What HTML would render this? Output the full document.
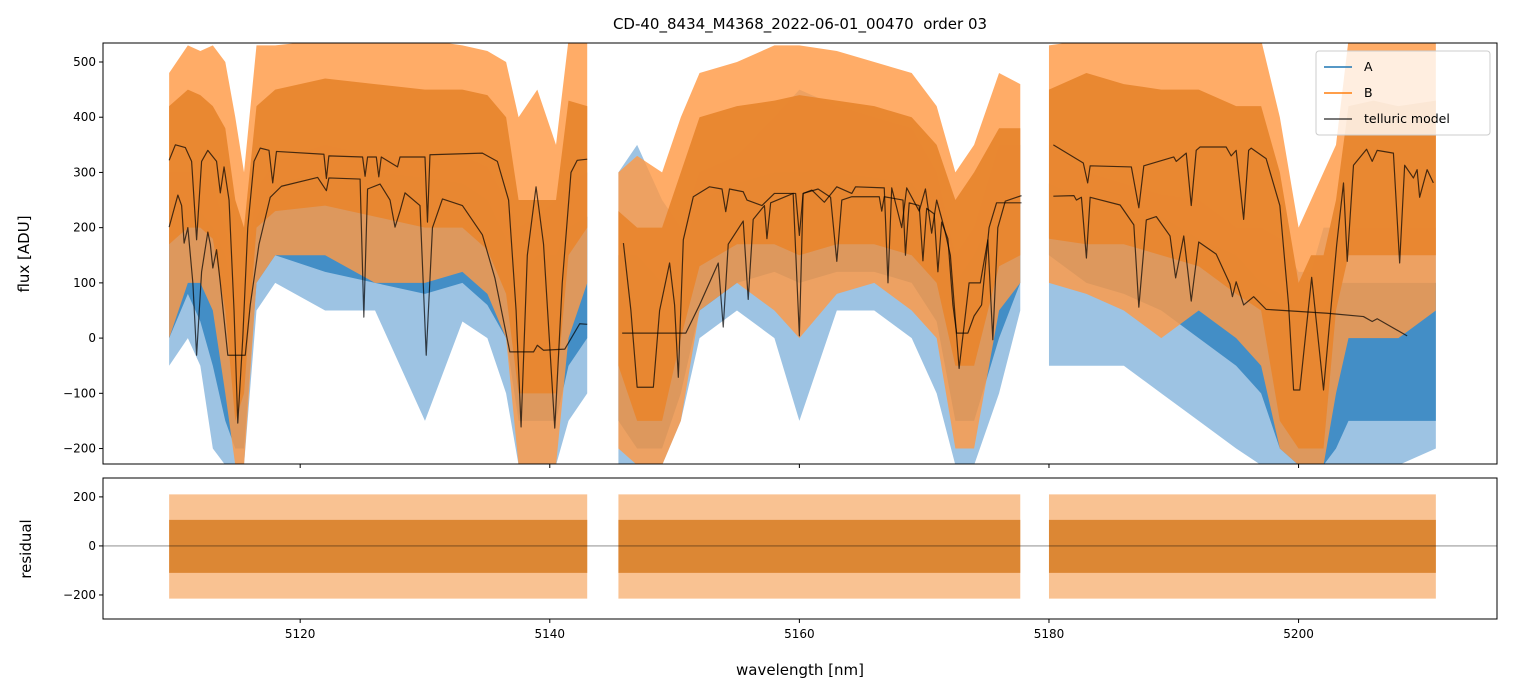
<!DOCTYPE html>
<html><head><meta charset="utf-8"><style>
body{margin:0;background:#fff;font-family:"DejaVu Sans","Liberation Sans",sans-serif}
svg text{font-family:"DejaVu Sans","Liberation Sans",sans-serif;fill:#000}
</style></head><body>
<svg id="c" width="1513" height="696" xmlns="http://www.w3.org/2000/svg"></svg>
<script>
// ---- data (wavelength nm; envelopes) ----
const segWl = [
 [5109.5,5111,5112,5113,5114,5114.8,5115.5,5116.5,5118,5122,5126,5130,5133,5135,5136.5,5137.5,5139,5140.5,5141.5,5143],
 [5145.5,5147,5149,5150.5,5152,5155,5158,5160,5163,5166,5169,5171,5172.5,5174,5176,5177.7],
 [5180,5183,5186,5189,5192,5195,5197,5198.5,5200,5201,5202,5203,5204,5206,5208,5211]];
const bOutHi = [[480,530,520,530,500,400,300,530,530,540,540,540,530,520,500,400,450,350,540,540],
 [300,330,300,400,480,500,530,530,520,500,480,420,300,350,480,460],
 [530,540,540,540,540,540,540,400,200,250,300,350,540,540,540,540]];
const bOutLo = [[0,100,100,50,-100,-230,-230,100,150,150,100,100,120,80,0,-230,-230,-230,0,100],
 [-200,-230,-230,-150,50,100,50,0,80,100,50,0,-200,-200,50,100],
 [100,80,50,0,50,0,-50,-200,-230,-230,-230,-100,0,0,0,50]];
const bCoreHi = [[420,450,440,420,380,250,200,420,450,470,460,450,450,440,400,250,250,250,430,420],
 [230,200,200,300,400,420,430,440,430,420,400,350,250,300,380,380],
 [450,480,460,450,450,420,420,300,100,150,150,250,420,430,420,430]];
const bCoreLo = [[170,200,200,180,50,-150,-100,200,230,240,220,200,200,160,80,-100,-100,-100,150,200],
 [-50,-150,-150,0,130,170,170,150,170,170,150,100,-50,-50,130,150],
 [180,170,170,150,130,80,50,-150,-200,-200,-200,50,150,150,150,150]];
const aOutHi = [[300,300,300,280,200,100,100,270,320,350,330,320,330,310,250,200,220,250,280,300],
 [300,350,250,200,300,330,400,450,420,400,380,300,150,200,350,350],
 [350,300,280,260,250,200,200,180,120,120,200,200,200,200,200,200]];
const aOutLo = [[-50,0,-50,-200,-230,-230,-230,50,100,50,50,-150,30,0,-100,-230,-230,-230,-150,-100],
 [-230,-230,-230,-150,0,50,0,-150,50,50,0,-100,-230,-230,-100,50],
 [-50,-50,-50,-100,-150,-200,-230,-230,-230,-230,-230,-230,-230,-230,-230,-200]];
const aCoreHi = [[250,230,230,200,150,50,50,220,280,300,300,290,280,250,180,120,150,150,200,220],
 [150,150,100,150,250,280,300,300,300,290,280,230,100,150,250,250],
 [280,250,230,220,180,150,100,80,50,30,50,100,100,100,100,100]];
const aCoreLo = [[0,80,30,-50,-150,-200,-200,100,150,120,100,80,100,60,0,-150,-150,-150,-50,0],
 [-150,-200,-200,-100,50,100,120,100,120,120,100,30,-150,-150,0,100],
 [150,100,80,50,0,-50,-100,-200,-230,-230,-230,-200,-150,-150,-150,-150]];
const resOuter=[-215,210], resCore=[-110,106];
const tellB = [
 [[5109.5,322],[5110,350],[5110.8,345],[5111.3,320],[5111.7,178],[5112.1,320],[5112.6,340],[5113.3,320],[5113.6,263],[5113.9,310],[5114.3,250],[5114.7,50],[5115.0,-154],[5115.4,0],[5115.8,200],[5116.3,320],[5116.8,344],[5117.5,340],[5117.8,281],[5118.1,338],[5121.9,333],[5122.1,289],[5122.3,330],[5125,328],[5125.2,293],[5125.4,328],[5126.1,328],[5126.3,292],[5126.5,328],[5127.8,310],[5128,328],[5130,328],[5130.2,210],[5130.4,332],[5134.6,335],[5135.8,320],[5136.7,250],[5137.3,50],[5137.7,-161],[5138.2,150],[5138.9,274],[5139.5,170],[5140.4,-163],[5141,100],[5141.7,300],[5142.2,322],[5143,324]],
 [[5145.9,172],[5146.5,50],[5147,-89],[5148.3,-89],[5148.8,50],[5149.6,136],[5150,60],[5150.3,-71],[5150.7,178],[5151.5,256],[5152.8,274],[5153.8,270],[5154.1,229],[5154.4,270],[5155.5,265],[5155.8,250],[5157,240],[5158,262],[5159.7,262],[5160,186],[5160.3,262],[5161,268],[5162,246],[5163,274],[5164.2,262],[5164.5,274],[5166.8,272],[5167.1,100],[5167.4,272],[5168.2,200],[5168.6,272],[5169.6,230],[5170.1,270],[5170.6,190],[5171,250],[5171.6,200],[5172.1,150],[5172.8,-55],[5173.6,100],[5174.5,100],[5175.1,178],[5175.5,-3],[5175.9,200],[5176.5,248],[5177.8,258]],
 [[5180.35,350],[5182.75,317],[5183.1,281],[5183.3,312],[5186.6,310],[5187.2,236],[5187.6,312],[5190,328],[5190.2,320],[5191,335],[5191.4,240],[5191.8,340],[5192.1,346],[5194.2,346],[5194.6,330],[5195,340],[5195.6,215],[5196,340],[5196.2,344],[5197.4,325],[5198.5,240],[5199.2,60],[5199.6,-94],[5200.1,-94],[5201.05,110],[5202,-94],[5203.05,168],[5203.6,281],[5203.9,139],[5204.4,313],[5205.45,342],[5205.9,320],[5206.3,340],[5207.6,335],[5208.1,136],[5208.5,313],[5209.2,290],[5209.5,305],[5209.7,255],[5210.3,305],[5210.8,281]]];
const tellA = [
 [[5109.5,201],[5110.2,259],[5110.5,240],[5110.7,172],[5111.0,200],[5111.4,100],[5111.7,-31],[5112.1,120],[5112.6,192],[5112.8,170],[5113.0,127],[5113.3,160],[5113.6,100],[5114.2,-31],[5115.6,-31],[5116,60],[5116.7,170],[5117.6,255],[5118.5,275],[5121.4,291],[5122.1,267],[5122.3,290],[5124.8,288],[5125.1,38],[5125.4,270],[5126.4,279],[5127.2,250],[5127.6,201],[5128,230],[5128.4,263],[5129.6,240],[5130.1,-31],[5130.6,200],[5131.4,252],[5133,240],[5134.6,187],[5135.6,109],[5136.8,-25],[5138.7,-25],[5139,-13],[5139.5,-22],[5141.2,-20],[5142.4,26],[5143,25]],
 [[5145.8,9],[5150.9,9],[5152,60],[5153.5,136],[5153.9,20],[5154.3,170],[5155.5,212],[5155.9,70],[5156.3,215],[5157.2,240],[5157.4,180],[5157.7,245],[5159.5,262],[5160,4],[5160.3,262],[5161.5,270],[5162.5,255],[5163,139],[5163.4,250],[5164.2,256],[5166.4,256],[5166.6,230],[5166.8,256],[5168.3,250],[5168.5,150],[5168.8,245],[5169.6,240],[5169.9,140],[5170.2,235],[5170.8,225],[5171.1,120],[5171.4,210],[5171.9,180],[5172.3,60],[5172.6,9],[5173.5,9],[5174,40],[5174.6,60],[5175.2,200],[5175.8,245],[5177.8,245]],
 [[5180.35,257],[5182,258],[5182.2,250],[5182.6,255],[5183.0,145],[5183.3,255],[5185.7,241],[5186.8,205],[5187.2,56],[5187.8,214],[5188.6,220],[5189.7,185],[5190.15,109],[5190.8,185],[5191.4,67],[5192,174],[5193.4,152],[5194.5,98],[5194.7,75],[5195,102],[5195.6,60],[5196.4,75],[5197.4,52],[5202.3,45],[5205.2,39],[5205.9,30],[5206.3,35],[5208.7,4]]];
const xTicks=[5120,5140,5160,5180,5200];
const yTicks=[500,400,300,200,100,0,-100,-200];
const rTicks=[200,0,-200];

// ---- layout ----
const L=103,R=1497,T1=43,B1=464,T2=478,B2=619;
const x=w=>L+(w-5104.2)/(5215.9-5104.2)*(R-L);
const y1=v=>T1+(534.4-v)/(534.4+228)*(B1-T1);
const y2=v=>T2+(277-v)/(277+298)*(B2-T2);
const svg=document.getElementById('c'), NS='http://www.w3.org/2000/svg';
function el(t,a,p){const e=document.createElementNS(NS,t);for(const k in a)e.setAttribute(k,a[k]);(p||svg).appendChild(e);return e;}
const defs=el('defs',{});
const c1=el('clipPath',{id:'k1'},defs);el('rect',{x:L,y:T1,width:R-L,height:B1-T1},c1);
const c2=el('clipPath',{id:'k2'},defs);el('rect',{x:L,y:T2,width:R-L,height:B2-T2},c2);
const g1=el('g',{'clip-path':'url(#k1)'}); const g2=el('g',{'clip-path':'url(#k2)'});
function band(g,ws,lo,hi,yf,col,op,name){
 let p=ws.map((w,i)=>x(w)+','+yf(hi[i])); for(let i=ws.length-1;i>=0;i--)p.push(x(ws[i])+','+yf(lo[i]));
 const e=el('polygon',{points:p.join(' '),fill:col,'fill-opacity':op},g);
 
 
}
for(let s=0;s<3;s++){band(g1,segWl[s],aOutLo[s],aOutHi[s],y1,'#5b9bd0',0.6,'series-a-spread');
 band(g1,segWl[s],aCoreLo[s],aCoreHi[s],y1,'#3a88c2',0.9,'series-a-core');}
for(let s=0;s<3;s++){band(g1,segWl[s],bOutLo[s],bOutHi[s],y1,'#ff9a45',0.82,'series-b-spread');
 band(g1,segWl[s],bCoreLo[s],bCoreHi[s],y1,'#e8862f',0.97,'series-b-core');}
function line(g,pts,name){const e=el('polyline',{points:pts.map(p=>x(p[0])+','+y1(p[1])).join(' '),fill:'none',stroke:'#000','stroke-opacity':0.7,'stroke-width':1.2,'stroke-linejoin':'round'},g);
 
 }
for(let s=0;s<3;s++){line(g1,tellB[s],'telluric-model-b');line(g1,tellA[s],'telluric-model-a');}
for(let s=0;s<3;s++){const w=segWl[s];const ws=[w[0],w[w.length-1]];
 band(g2,ws,[resOuter[0],resOuter[0]],[resOuter[1],resOuter[1]],y2,'#f59a4a',0.6,'residual-spread');
 band(g2,ws,[resCore[0],resCore[0]],[resCore[1],resCore[1]],y2,'#da842f',0.95,'residual-core');}
el('line',{x1:L,x2:R,y1:y2(0),y2:y2(0),stroke:'#000','stroke-opacity':0.5,'stroke-width':0.8});
const f1=el('rect',{x:L,y:T1,width:R-L,height:B1-T1,fill:'none',stroke:'#000','stroke-width':1});

const f2=el('rect',{x:L,y:T2,width:R-L,height:B2-T2,fill:'none',stroke:'#000','stroke-width':1});

xTicks.forEach(t=>{const X=x(t);
 el('line',{x1:X,x2:X,y1:B1,y2:B1+4,stroke:'#000'});el('line',{x1:X,x2:X,y1:B2,y2:B2+4,stroke:'#000'});
 const e=el('text',{x:X,y:B2+19,'font-size':12,'text-anchor':'middle'});e.textContent=t;
 });
yTicks.forEach(t=>{const Y=y1(t);el('line',{x1:L-4,x2:L,y1:Y,y2:Y,stroke:'#000'});
 const e=el('text',{x:L-7,y:Y+4,'font-size':12,'text-anchor':'end'});e.textContent=t<0?'\u2212'+(-t):t;
 });
rTicks.forEach(t=>{const Y=y2(t);el('line',{x1:L-4,x2:L,y1:Y,y2:Y,stroke:'#000'});
 const e=el('text',{x:L-7,y:Y+4,'font-size':12,'text-anchor':'end'});e.textContent=t<0?'\u2212'+(-t):t;
 });
</script>
<svg style="position:absolute;left:0;top:0" width="1513" height="696" xmlns="http://www.w3.org/2000/svg">
<text x="800" y="29" font-size="15" text-anchor="middle" style="white-space:pre">CD-40_8434_M4368_2022-06-01_00470  order 03</text>
<text x="29" y="254" font-size="15" text-anchor="middle" transform="rotate(-90 29 254)">flux [ADU]</text>
<text x="31" y="549" font-size="15" text-anchor="middle" transform="rotate(-90 31 549)">residual</text>
<text x="800" y="675" font-size="15" text-anchor="middle">wavelength [nm]</text>
<g>
<rect x="1316" y="51" width="174" height="84" rx="3" fill="#fff" fill-opacity="0.8" stroke="#ccc"/>
<line x1="1324" x2="1352" y1="67" y2="67" stroke="#1f77b4" stroke-width="1.5"/>
<text x="1364" y="71" font-size="12.5">A</text>
<line x1="1324" x2="1352" y1="93" y2="93" stroke="#ff7f0e" stroke-width="1.5"/>
<text x="1364" y="97" font-size="12.5">B</text>
<line x1="1324" x2="1352" y1="119" y2="119" stroke="#000" stroke-opacity="0.7" stroke-width="1.5"/>
<text x="1364" y="123" font-size="12.5">telluric model</text>
</g>
</svg>
</body></html>
